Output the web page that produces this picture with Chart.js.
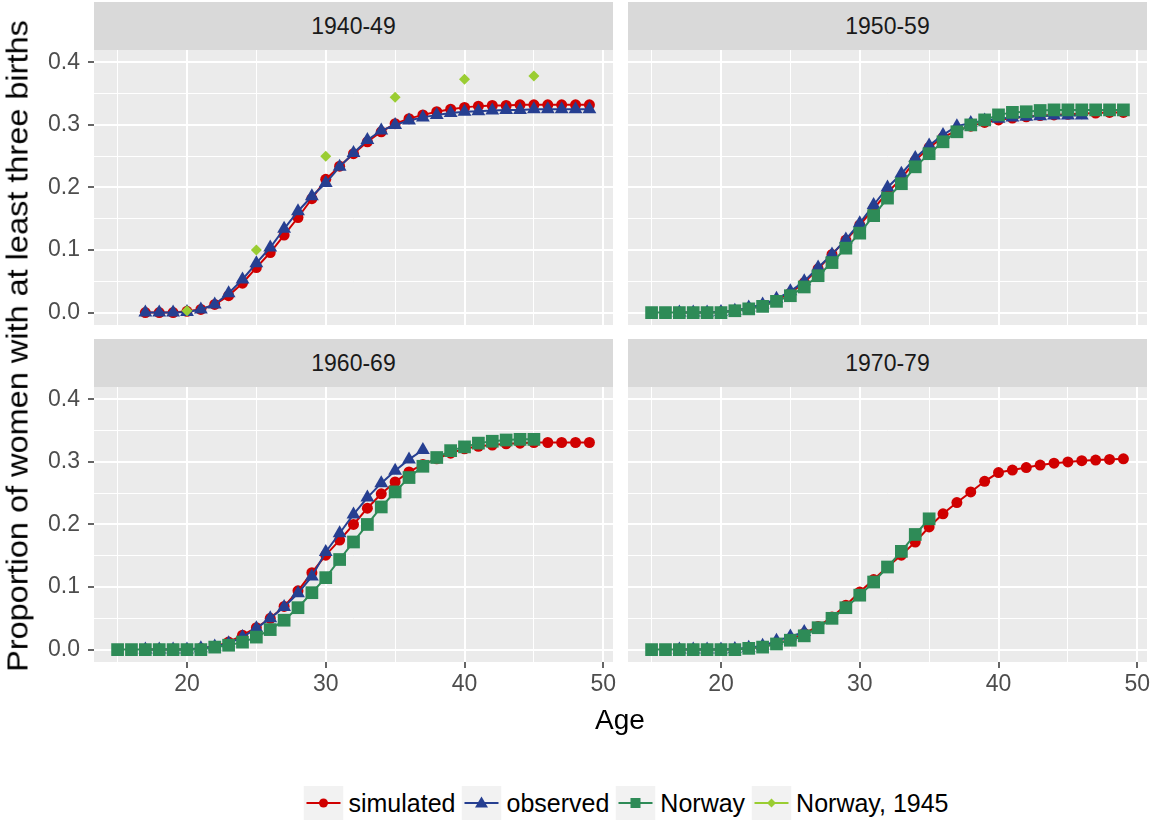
<!DOCTYPE html>
<html>
<head>
<meta charset="utf-8">
<script src="https://cdn.jsdelivr.net/npm/chart.js@4.4.1/dist/chart.umd.min.js"></script>
<style>
  body { margin: 0; background: #fff; width: 1152px; height: 820px; position: relative; overflow: hidden;
         font-family: "Liberation Sans", Arial, sans-serif; }
  canvas { position: absolute; }
  .strip { position: absolute; background: #d9d9d9; color: #1a1a1a; font-size: 23px;
           display: flex; align-items: center; justify-content: center; }
  .title { position: absolute; white-space: nowrap; color: #000; font-size: 28px; transform: translate(-50%, -50%); }
  #ytitle { font-size: 29px; transform: translate(-50%, -50%) rotate(-90deg) scaleX(1.12); }
  #legend { position: absolute; left: 629px; top: 786px; transform: translateX(-50%); display: flex; align-items: center;
            font-size: 25px; color: #000; white-space: nowrap; }
  #legend .item { display: flex; align-items: center; margin-right: 6px; }
  #legend svg { margin-right: 5px; display: block; }
</style>
</head>
<body>
<div class="strip" id="s1">1940-49</div>
<div class="strip" id="s2">1950-59</div>
<div class="strip" id="s3">1960-69</div>
<div class="strip" id="s4">1970-79</div>
<canvas id="c1"></canvas>
<canvas id="c2"></canvas>
<canvas id="c3"></canvas>
<canvas id="c4"></canvas>
<div class="title" id="ytitle" style="left:18px;top:346px">Proportion of women with at least three births</div>
<div class="title" id="xtitle" style="left:620px;top:720px">Age</div>
<div id="legend"></div>

<script>
/* ---- DATA ---- */
const X_TICKS = [15, 20, 25, 30, 35, 40, 45, 50];
const Y_TICKS = [0, 0.05, 0.1, 0.15, 0.2, 0.25, 0.3, 0.35, 0.4];

// simulated / observed start at age 17, Norway at age 15
const sim1940 = [0, 0, 0, 0.002, 0.005, 0.013, 0.027, 0.047, 0.072, 0.096, 0.124, 0.152, 0.182, 0.213, 0.234,
  0.254, 0.273, 0.289, 0.302, 0.31, 0.316, 0.321, 0.325, 0.328, 0.33, 0.331, 0.331, 0.332, 0.332, 0.332, 0.332, 0.332, 0.332];
const obs1940 = [0, 0, 0, 0.001, 0.005, 0.013, 0.031, 0.053, 0.079, 0.104, 0.134, 0.162, 0.186, 0.207, 0.233,
  0.255, 0.276, 0.291, 0.3, 0.307, 0.312, 0.316, 0.319, 0.321, 0.322, 0.323, 0.324, 0.324, 0.325, 0.325, 0.325, 0.325, 0.325];
const nor1945Ages = [20, 25, 30, 35, 40, 45];
const nor1945 = [0.003, 0.1, 0.25, 0.344, 0.373, 0.378];

const sim1950 = [0, 0, 0, 0.001, 0.003, 0.007, 0.012, 0.02, 0.031, 0.048, 0.07, 0.093, 0.116, 0.14, 0.166,
  0.192, 0.214, 0.243, 0.264, 0.28, 0.291, 0.298, 0.304, 0.308, 0.311, 0.313, 0.315, 0.316, 0.317, 0.318, 0.319, 0.32, 0.32];
const obs1950 = [0, 0, 0, 0.001, 0.003, 0.008, 0.013, 0.022, 0.034, 0.05, 0.072, 0.093, 0.117, 0.143, 0.172,
  0.2, 0.222, 0.247, 0.267, 0.284, 0.298, 0.303, 0.307, 0.31, 0.312, 0.313, 0.314, 0.315, 0.315, 0.315];
const nor1950 = [0, 0, 0, 0, 0, 0, 0.003, 0.006, 0.01, 0.018, 0.027, 0.041, 0.059, 0.08, 0.103, 0.127, 0.155,
  0.183, 0.206, 0.233, 0.254, 0.273, 0.289, 0.3, 0.308, 0.316, 0.32, 0.321, 0.323, 0.324, 0.324, 0.324, 0.324, 0.324, 0.324];

const sim1960 = [0, 0, 0, 0, 0.002, 0.005, 0.012, 0.023, 0.035, 0.05, 0.069, 0.094, 0.123, 0.151, 0.175,
  0.2, 0.226, 0.249, 0.268, 0.284, 0.296, 0.305, 0.314, 0.321, 0.325, 0.327, 0.329, 0.33, 0.331, 0.331, 0.331, 0.331, 0.331];
const obs1960 = [0, 0, 0, 0, 0.002, 0.005, 0.01, 0.02, 0.034, 0.05, 0.068, 0.09, 0.117, 0.156, 0.186,
  0.216, 0.243, 0.266, 0.286, 0.304, 0.319];
const nor1960 = [0, 0, 0, 0, 0, 0, 0, 0.004, 0.007, 0.012, 0.02, 0.032, 0.047, 0.067, 0.091, 0.115, 0.144,
  0.172, 0.2, 0.228, 0.252, 0.275, 0.293, 0.307, 0.318, 0.324, 0.33, 0.333, 0.335, 0.336, 0.336];

const sim1970 = [0, 0, 0, 0, 0, 0.002, 0.004, 0.01, 0.016, 0.026, 0.037, 0.052, 0.071, 0.092, 0.112,
  0.132, 0.151, 0.172, 0.196, 0.217, 0.235, 0.252, 0.269, 0.283, 0.287, 0.291, 0.295, 0.298, 0.3, 0.302, 0.303, 0.304, 0.305];
const obs1970 = [0, 0, 0, 0, 0.001, 0.003, 0.006, 0.014, 0.021, 0.028];
const nor1970 = [0, 0, 0, 0, 0, 0, 0, 0.002, 0.004, 0.009, 0.015, 0.022, 0.035, 0.05, 0.067, 0.087, 0.108,
  0.132, 0.157, 0.184, 0.209];

/* ---- STYLE ---- */
const RED = '#d00000', BLUE = '#263f91', GREEN = '#2e8b57', LIME = '#9acd32';
const FONT = 'Liberation Sans, Arial, sans-serif';
const X_MIN = 13.3, X_MAX = 50.7, Y_MIN = -0.0198, Y_MAX = 0.4197;
const PAD = 12, Y_AXIS_W = 54, X_AXIS_H = 40, PANEL_W = 519, PANEL_H = 275;

const fromAge = (start, vals) => vals.map((v, i) => ({ x: start + i, y: v }));
const atAges = (ages, vals) => vals.map((v, i) => ({ x: ages[i], y: v }));

function line(label, data, color, style, radius, order, showLine = true) {
  return {
    label, data, order, showLine,
    borderColor: color, backgroundColor: color, borderWidth: 2, tension: 0,
    pointStyle: style, pointRadius: radius, pointBorderWidth: 0, pointHoverRadius: radius
  };
}
const simulated = d => line('simulated', fromAge(17, d), RED, 'circle', 5.5, 3);
const observed  = d => line('observed', fromAge(17, d), BLUE, 'triangle', 8, 2);
const norway    = d => line('Norway', fromAge(15, d), GREEN, 'rect', 9, 1);

// panel background like ggplot grey theme
const panelBg = {
  id: 'panelBg',
  beforeDraw(chart) {
    const { ctx, chartArea: a } = chart;
    ctx.save();
    ctx.fillStyle = '#ebebeb';
    ctx.fillRect(a.left, a.top, a.width, a.height);
    ctx.restore();
  }
};

const isMajorX = v => v % 10 === 0;
const isMajorY = v => Math.round(v * 100) % 10 === 0;

// keep the panel box fixed: no extra room for label overflow
function fixAxis(s, w, h) {
  if (w !== null) s.width = w;
  if (h !== null) s.height = h;
  s.paddingTop = s.paddingBottom = s.paddingLeft = s.paddingRight = 0;
}

function makePanel(id, left, top, datasets, showX, showY) {
  const canvas = document.getElementById(id);
  const yW = showY ? Y_AXIS_W : 0, xH = showX ? X_AXIS_H : 0;
  canvas.width = PANEL_W + 2 * PAD + yW;
  canvas.height = PANEL_H + 2 * PAD + xH;
  canvas.style.left = (left - PAD - yW) + 'px';
  canvas.style.top = (top - PAD) + 'px';

  new Chart(canvas, {
    type: 'line',
    data: { datasets },
    options: {
      responsive: false,
      animation: false,
      events: [],
      layout: { padding: PAD },
      plugins: { legend: { display: false }, tooltip: { enabled: false } },
      scales: {
        x: {
          type: 'linear', min: X_MIN, max: X_MAX,
          afterBuildTicks: s => { s.ticks = X_TICKS.map(v => ({ value: v })); },
          afterFit: s => fixAxis(s, null, xH),
          border: { display: false },
          grid: {
            color: '#ffffff',
            lineWidth: c => isMajorX(c.tick.value) ? 2 : 1,
            drawTicks: showX, tickLength: 6,
            tickColor: c => isMajorX(c.tick.value) ? '#333333' : 'rgba(0,0,0,0)',
            tickWidth: 1.5
          },
          ticks: {
            display: showX, autoSkip: false, maxRotation: 0, padding: 3,
            color: '#4d4d4d', font: { family: FONT, size: 23 },
            callback: v => isMajorX(v) ? String(v) : ''
          }
        },
        y: {
          type: 'linear', min: Y_MIN, max: Y_MAX,
          afterBuildTicks: s => { s.ticks = Y_TICKS.map(v => ({ value: v })); },
          afterFit: s => fixAxis(s, yW, null),
          border: { display: false },
          grid: {
            color: '#ffffff',
            lineWidth: c => isMajorY(c.tick.value) ? 2 : 1,
            drawTicks: showY, tickLength: 6,
            tickColor: c => isMajorY(c.tick.value) ? '#333333' : 'rgba(0,0,0,0)',
            tickWidth: 1.5
          },
          ticks: {
            display: showY, autoSkip: false, padding: 8,
            color: '#4d4d4d', font: { family: FONT, size: 23 },
            callback: v => isMajorY(v) ? v.toFixed(1) : ''
          }
        }
      }
    },
    plugins: [panelBg]
  });
}

function placeStrip(id, left, top) {
  const s = document.getElementById(id);
  Object.assign(s.style, { left: left + 'px', top: (top - 48) + 'px', width: PANEL_W + 'px', height: '48px' });
}

/* ---- PANELS ---- */
const L1 = 94, L2 = 628, T1 = 50, T2 = 387;

makePanel('c1', L1, T1, [
  simulated(sim1940), observed(obs1940),
  line('Norway, 1945', atAges(nor1945Ages, nor1945), LIME, 'rectRot', 5.5, 0, false)
], false, true);
makePanel('c2', L2, T1, [simulated(sim1950), observed(obs1950), norway(nor1950)], false, false);
makePanel('c3', L1, T2, [simulated(sim1960), observed(obs1960), norway(nor1960)], true, true);
makePanel('c4', L2, T2, [simulated(sim1970), observed(obs1970), norway(nor1970)], true, false);

placeStrip('s1', L1, T1); placeStrip('s2', L2, T1);
placeStrip('s3', L1, T2); placeStrip('s4', L2, T2);

/* ---- LEGEND ---- */
const legendItems = [
  { label: 'simulated', color: RED, shape: 'circle' },
  { label: 'observed', color: BLUE, shape: 'triangle' },
  { label: 'Norway', color: GREEN, shape: 'square' },
  { label: 'Norway, 1945', color: LIME, shape: 'diamond' }
];
const markerSvg = (shape, c) => ({
  circle: `<circle cx="20" cy="17" r="4.5" fill="${c}"/>`,
  triangle: `<polygon points="20,10.5 26.5,21.5 13.5,21.5" fill="${c}"/>`,
  square: `<rect x="15" y="12" width="10" height="10" fill="${c}"/>`,
  diamond: `<polygon points="20,12.5 24.5,17 20,21.5 15.5,17" fill="${c}"/>`
}[shape]);
document.getElementById('legend').innerHTML = legendItems.map(it => `
  <div class="item">
    <svg width="40" height="34"><rect width="40" height="34" fill="#f2f2f2"/>
      <line x1="3" y1="17" x2="37" y2="17" stroke="${it.color}" stroke-width="2"/>
      ${markerSvg(it.shape, it.color)}</svg>
    <span>${it.label}</span>
  </div>`).join('');
</script>
</body>
</html>
